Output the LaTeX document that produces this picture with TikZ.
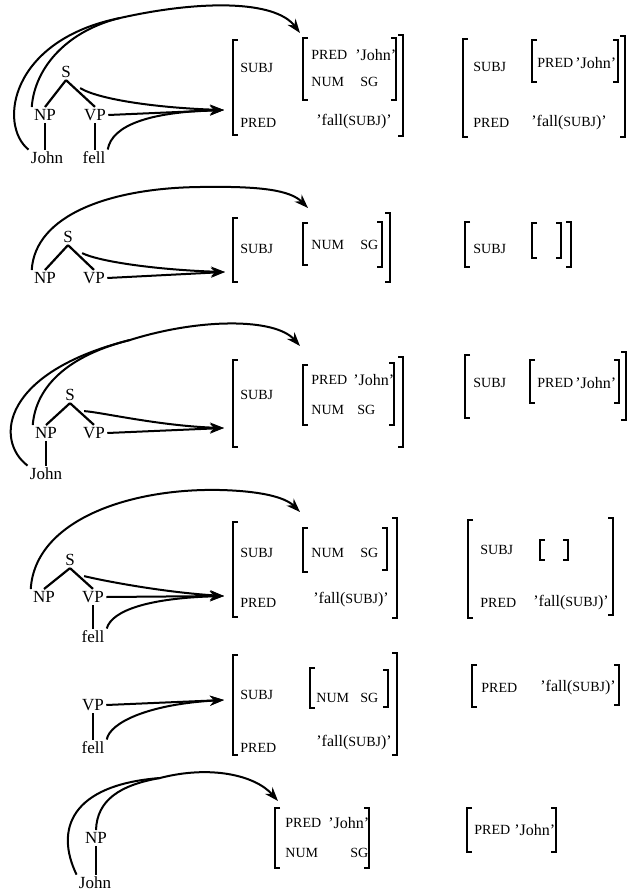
\documentclass[tikz,border=0pt]{standalone}
\usepackage{fontspec}
\setmainfont{Liberation Serif}
\usetikzlibrary{arrows.meta}
\newcommand{\featsz}{\fontsize{7}{8}\selectfont}
\newcommand{\fsopen}[3]{\draw[brak] (#1+5,#2) -- (#1,#2) -- (#1,#3) -- (#1+5,#3);}
\newcommand{\fsclose}[3]{\draw[brak] (#1-5,#2) -- (#1,#2) -- (#1,#3) -- (#1-5,#3);}

\begin{document}
\begin{tikzpicture}[x=0.5pt, y=-0.5pt,
    tn/.style={font=\fontsize{8.5}{9}\selectfont, inner sep=1pt},
    fn/.style={font=\featsz, anchor=west, inner sep=0pt},
    fv/.style={font=\fontsize{8}{9}\selectfont, anchor=west, inner sep=0pt},
    tree/.style={line width=1.1pt},
    lnk/.style={line width=1pt},
    ptr/.style={line width=1pt, -{Stealth[length=7pt,width=5pt]}},
    brak/.style={line width=1.2pt}]
    \useasboundingbox (0,0) rectangle (627,894);

    \node[tn] (S1) at (66,72) {S};
    \node[tn] (NP1) at (45,115) {NP};
    \node[tn] (VP1) at (95,115) {VP};
    \node[tn] (J1) at (47,158) {John};
    \node[tn] (F1) at (94,158) {fell};
    \draw[tree] (S1.south) -- (NP1.north);
    \draw[tree] (S1.south) -- (VP1.north);
    \draw[tree] (NP1.south) -- (NP1.south |- J1.north);
    \draw[tree] (VP1.south) -- (VP1.south |- F1.north);
    \coordinate (M1) at (120,18);
    \coordinate (A1) at (300,33);
    \coordinate (B1) at (224,110);
    \draw[lnk] (J1.north west) .. controls (-2,125) and (10,40) .. (M1);
    \draw[lnk] (NP1.north west) .. controls (35,65) and (70,30) .. (M1);
    \draw[ptr] (M1) .. controls (200,0) and (275,0) .. (A1);
    \draw[ptr] ([shift={(7,8)}]S1.south east) .. controls (100,100) and (160,108) .. (B1);
    \draw[ptr] (VP1.east) -- (B1);
    \draw[ptr] (F1.north east) .. controls (112,125) and (150,112) .. (B1);
    \fsopen{233}{40}{135}
    \node[fn] (sb1) at (240,68) {SUBJ};
    \node[fn] (pr1) at (240,123) {PRED};
    \fsopen{303}{38}{100}
    \node[fn] (pa1) at (311,55) {PRED};
    \node[fv] (ja1) at (355,55) {'John'};
    \node[fn] (na1) at (311,82) {NUM};
    \node[fn] (ga1) at (360,82) {SG};
    \fsclose{396}{38}{100}
    \node[fv] (fa1) at (316,122) {'fall({\featsz SUBJ})'};
    \fsclose{403}{35}{136}
    \fsopen{463}{39}{137}
    \node[fn] (sb1r) at (473,67) {SUBJ};
    \fsopen{532}{40}{82}
    \node[fn] (pa1r) at (537,63) {PRED};
    \node[fv] (ja1r) at (575,63) {'John'};
    \fsclose{618}{40}{82}
    \node[fn] (pr1r) at (473,123) {PRED};
    \node[fv] (fa1r) at (531,123) {'fall({\featsz SUBJ})'};
    \fsclose{625}{36}{137}

    \node[tn] (S2) at (68,237) {S};
    \node[tn] (NP2) at (45,278) {NP};
    \node[tn] (VP2) at (94,278) {VP};
    \draw[tree] (S2.south) -- (NP2.north);
    \draw[tree] (S2.south) -- (VP2.north);
    \coordinate (A2) at (308,208);
    \coordinate (B2) at (225,272);
    \draw[ptr] (NP2.north west) .. controls (35,215) and (110,188) .. (200,187) .. controls (260,186) and (290,190) .. (A2);
    \draw[ptr] ([shift={(7,8)}]S2.south east) .. controls (100,262) and (160,270) .. (B2);
    \draw[ptr] (VP2.east) -- (B2);
    \fsopen{233}{218}{282}
    \node[fn] (sb2) at (240,249) {SUBJ};
    \fsopen{303}{223}{265}
    \node[fn] (na2) at (311,245) {NUM};
    \node[fn] (ga2) at (360,245) {SG};
    \fsclose{382}{222}{267}
    \fsclose{390}{213}{282}
    \fsopen{465}{222}{267}
    \node[fn] (sb2r) at (473,249) {SUBJ};
    \fsopen{532}{223}{258}
    \fsclose{561}{223}{258}
    \fsclose{571}{222}{267}

    \node[tn] (S3) at (70,395) {S};
    \node[tn] (NP3) at (46,433) {NP};
    \node[tn] (VP3) at (94,433) {VP};
    \node[tn] (J3) at (46,474) {John};
    \draw[tree] (S3.south) -- (NP3.north);
    \draw[tree] (S3.south) -- (VP3.north);
    \draw[tree] (NP3.south) -- (NP3.south |- J3.north);
    \coordinate (M3) at (130,340);
    \coordinate (A3) at (300,346);
    \coordinate (B3) at (224,428);
    \draw[lnk] (J3.north west) .. controls (-6,440) and (2,372) .. (M3);
    \draw[lnk] (NP3.north west) .. controls (36,385) and (70,355) .. (M3);
    \draw[ptr] (M3) .. controls (200,318) and (275,318) .. (A3);
    \draw[ptr] ([shift={(7,8)}]S3.south east) .. controls (100,412) and (160,426) .. (B3);
    \draw[ptr] (VP3.east) -- (B3);
    \fsopen{233}{360}{447}
    \node[fn] (sb3) at (240,395) {SUBJ};
    \fsopen{303}{365}{425}
    \node[fn] (pa3) at (311,380) {PRED};
    \node[fv] (ja3) at (353,380) {'John'};
    \node[fn] (na3) at (311,410) {NUM};
    \node[fn] (ga3) at (357,410) {SG};
    \fsclose{394}{363}{425}
    \fsclose{403}{357}{447}
    \fsopen{465}{355}{418}
    \node[fn] (sb3r) at (473,383) {SUBJ};
    \fsopen{530}{360}{403}
    \node[fn] (pa3r) at (537,383) {PRED};
    \node[fv] (ja3r) at (575,383) {'John'};
    \fsclose{619}{360}{403}
    \fsclose{626}{352}{420}

    \node[tn] (S4) at (70,560) {S};
    \node[tn] (NP4) at (44,597) {NP};
    \node[tn] (VP4) at (93,597) {VP};
    \node[tn] (F4) at (93,637) {fell};
    \draw[tree] (S4.south) -- (NP4.north);
    \draw[tree] (S4.south) -- (VP4.north);
    \draw[tree] (VP4.south) -- (VP4.south |- F4.north);
    \coordinate (A4) at (300,512);
    \coordinate (B4) at (224,596);
    \draw[ptr] (NP4.north west) .. controls (35,520) and (130,488) .. (220,490) .. controls (260,491) and (285,497) .. (A4);
    \draw[ptr] ([shift={(7,8)}]S4.south east) .. controls (100,580) and (160,592) .. (B4);
    \draw[ptr] (VP4.east) -- (B4);
    \draw[ptr] (F4.north east) .. controls (112,610) and (150,598) .. (B4);
    \fsopen{233}{522}{617}
    \node[fn] (sb4) at (240,553) {SUBJ};
    \fsopen{303}{528}{572}
    \node[fn] (na4) at (311,553) {NUM};
    \node[fn] (ga4) at (360,553) {SG};
    \fsclose{387}{528}{570}
    \node[fn] (pr4) at (240,603) {PRED};
    \node[fv] (fa4) at (313,600) {'fall({\featsz SUBJ})'};
    \fsclose{397}{518}{618}
    \fsopen{468}{520}{618}
    \node[fn] (sb4r) at (480,550) {SUBJ};
    \fsopen{540}{540}{560}
    \fsclose{568}{540}{560}
    \node[fn] (pr4r) at (480,603) {PRED};
    \node[fv] (fa4r) at (533,603) {'fall({\featsz SUBJ})'};
    \fsclose{613}{518}{615}

    \node[tn] (VP5) at (93,705) {VP};
    \node[tn] (F5) at (93,748) {fell};
    \draw[tree] (VP5.south) -- (VP5.south |- F5.north);
    \coordinate (B5) at (224,700);
    \draw[ptr] (VP5.east) -- (B5);
    \draw[ptr] (F5.north east) .. controls (110,722) and (150,704) .. (B5);
    \fsopen{233}{655}{755}
    \node[fn] (sb5) at (240,695) {SUBJ};
    \fsopen{310}{668}{708}
    \node[fn] (na5) at (316,698) {NUM};
    \node[fn] (ga5) at (360,698) {SG};
    \fsclose{388}{670}{707}
    \node[fn] (pr5) at (240,748) {PRED};
    \node[fv] (fa5) at (316,743) {'fall({\featsz SUBJ})'};
    \fsclose{397}{653}{755}
    \fsopen{472}{665}{707}
    \node[fn] (pr5r) at (481,688) {PRED};
    \node[fv] (fa5r) at (540,688) {'fall({\featsz SUBJ})'};
    \fsclose{619}{665}{705}

    \node[tn] (NP6) at (96,838) {NP};
    \node[tn] (J6) at (95,883) {John};
    \draw[tree] (NP6.south) -- (NP6.south |- J6.north);
    \coordinate (M6) at (160,778);
    \coordinate (A6) at (278,801);
    \draw[lnk] (J6.north west) .. controls (55,830) and (70,785) .. (M6);
    \draw[lnk] (NP6.north) .. controls (97,800) and (120,785) .. (M6);
    \draw[ptr] (M6) .. controls (210,765) and (255,775) .. (A6);
    \fsopen{275}{808}{868}
    \node[fn] (pa6) at (285,823) {PRED};
    \node[fv] (ja6) at (328,823) {'John'};
    \node[fn] (na6) at (285,853) {NUM};
    \node[fn] (ga6) at (350,853) {SG};
    \fsclose{369}{808}{868}
    \fsopen{467}{808}{852}
    \node[fn] (pa6r) at (474,830) {PRED};
    \node[fv] (ja6r) at (514,830) {'John'};
    \fsclose{556}{808}{852}
\end{tikzpicture}
\end{document}
